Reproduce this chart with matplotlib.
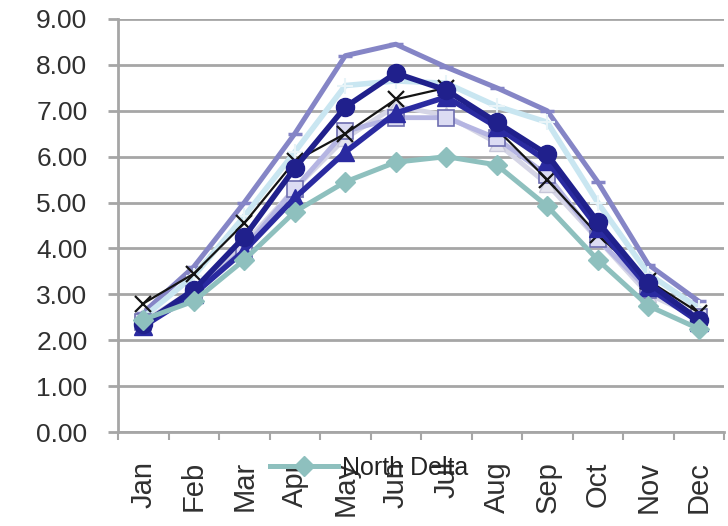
import numpy as np
import matplotlib
matplotlib.use("Agg")
import matplotlib.pyplot as plt
from matplotlib.lines import Line2D

plt.rcParams['font.family'] = ['Liberation Sans', 'DejaVu Sans']

months = ["Jan", "Feb", "Mar", "Apr", "May", "Jun",
          "Jul", "Aug", "Sep", "Oct", "Nov", "Dec"]

# Monthly values per region
upper_lavender = [2.60, 3.60, 5.00, 6.50, 8.20, 8.45, 7.95, 7.50, 7.00, 5.45, 3.65, 2.85]
light_cyan     = [2.50, 3.40, 4.70, 6.10, 7.55, 7.65, 7.60, 7.10, 6.75, 5.00, 3.45, 2.70]
pale_triangle  = [2.40, 3.10, 4.10, 5.30, 6.40, 7.10, 6.90, 6.30, 5.40, 4.20, 3.00, 2.50]
lavender_sq    = [2.40, 3.00, 4.00, 5.30, 6.55, 6.85, 6.85, 6.40, 5.60, 4.20, 3.10, 2.50]
black_star     = [2.80, 3.45, 4.55, 5.90, 6.50, 7.25, 7.50, 6.60, 5.50, 4.30, 3.30, 2.60]
navy_triangle  = [2.30, 3.00, 3.95, 5.10, 6.10, 6.95, 7.30, 6.65, 5.90, 4.45, 3.15, 2.40]
navy_circle    = [2.35, 3.10, 4.25, 5.75, 7.08, 7.82, 7.45, 6.75, 6.05, 4.58, 3.25, 2.45]
north_delta    = [2.45, 2.85, 3.75, 4.80, 5.45, 5.88, 6.00, 5.82, 4.92, 3.75, 2.75, 2.25]

y_ticks = [0, 1, 2, 3, 4, 5, 6, 7, 8, 9]

fig = plt.figure(figsize=(7.28, 5.26), dpi=100)
ax = fig.add_axes([118 / 728, 1 - 432 / 526, (724 - 118) / 728, (432 - 19) / 526])

x = np.arange(len(months))
grid_col = "#A6A6A6"
text_col = "#303030"

ax.plot(x, upper_lavender, color="#8585C6", lw=3.6, marker="_", ms=10, mew=2.5, zorder=3)
ax.plot(x, light_cyan, color="#C9E6F1", lw=4.0, marker="+", ms=11, mew=1.5,
        mec="#E8F4F8", zorder=3)
ax.plot(x, pale_triangle, color="#D5D5E6", lw=3.5, marker="^", ms=12,
        mfc="#E4E4EE", mec="#C8C8DA", zorder=4)
ax.plot(x, lavender_sq, color="#B5B5E2", lw=3.5, marker="s", ms=12,
        mfc="#DCDCF3", mec="#6E6EB0", mew=1.2, zorder=4)
ax.plot(x, black_star, color="#141414", lw=1.6, marker="x", ms=11, mew=1.6, zorder=5)
ax.plot(x, navy_triangle, color="#2A2AA0", lw=4.0, marker="^", ms=13,
        mfc="#2A2AA0", mec="#2A2AA0", zorder=5)
ax.plot(x, navy_circle, color="#20208C", lw=4.0, marker="o", ms=13,
        mfc="#20208C", mec="#20208C", zorder=6)
ax.plot(x, north_delta, color="#8EC0BE", lw=3.6, marker="D", ms=10,
        mfc="#8EC0BE", mec="#8EC0BE", zorder=6)

ax.set_ylim(0, 9)
ax.set_xlim(-0.5, len(months) - 0.5)
ax.set_yticks(y_ticks)
ax.set_yticklabels([f"{v:.2f}" for v in y_ticks])
ax.yaxis.grid(True, color=grid_col, lw=2.0)
ax.set_axisbelow(True)

# category boundaries carry the tick marks, centres carry the names
ax.set_xticks(np.arange(-0.5, len(months)), minor=False)
ax.set_xticklabels([])
ax.set_xticks(x, minor=True)
ax.set_xticklabels(months, minor=True, rotation=90, fontsize=21, color=text_col)
ax.tick_params(axis="x", which="major", length=6, width=1.5, color=grid_col)
ax.tick_params(axis="x", which="minor", length=0, pad=21)
ax.tick_params(axis="y", length=7, width=2.0, color=grid_col, labelsize=19,
               labelcolor=text_col, pad=15)

for side in ("top", "right"):
    ax.spines[side].set_visible(False)
ax.spines["left"].set_color(grid_col)
ax.spines["left"].set_linewidth(2.0)
ax.spines["bottom"].set_color(grid_col)
ax.spines["bottom"].set_linewidth(2.0)

handle = Line2D([], [], color="#8EC0BE", lw=3.6, marker="D", ms=10)
fig.legend([handle], ["North Delta"], loc="center left",
           bbox_to_anchor=(270 / 728, 1 - 468 / 526), frameon=False,
           fontsize=18, handlelength=2.7, handletextpad=0.2,
           labelcolor="#222222", borderaxespad=0, borderpad=0)

fig.savefig("out.png", dpi=100)
